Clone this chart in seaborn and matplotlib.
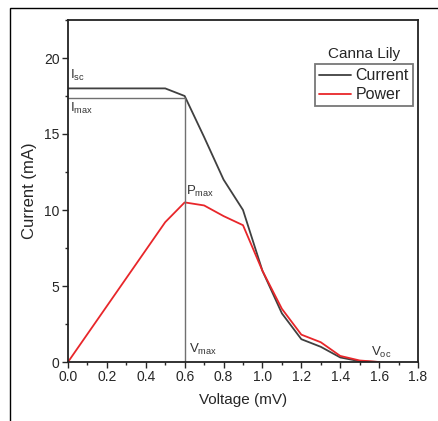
import numpy as np
import pandas as pd
import matplotlib
matplotlib.use("Agg")
import matplotlib.pyplot as plt
import seaborn as sns
from matplotlib.ticker import MultipleLocator, FormatStrFormatter
from matplotlib.lines import Line2D

voltage = [0.0, 0.5, 0.6, 0.7, 0.8, 0.9, 1.0, 1.1, 1.2, 1.3, 1.4, 1.5, 1.6]
current = [18.0, 18.0, 17.5, 14.8, 12.0, 10.0, 6.0, 3.2, 1.5, 1.0, 0.3, 0.05, 0.0]
power = [0.0, 9.2, 10.5, 10.3, 9.6, 9.0, 6.0, 3.5, 1.8, 1.3, 0.4, 0.1, 0.0]
series_names = ["Current", "Power"]
v_max = 0.6
i_max = 17.4

df = pd.DataFrame({
    "Voltage": voltage * 2,
    "Value": current + power,
    "Series": [series_names[0]] * len(voltage) + [series_names[1]] * len(voltage),
})

sns.set_style("white")
plt.rcParams['font.family'] = ['Liberation Sans', 'DejaVu Sans']
plt.rcParams['mathtext.fontset'] = 'custom'
plt.rcParams['mathtext.rm'] = 'Liberation Sans'

fig = plt.figure(figsize=(4.39, 4.21), dpi=100)
ax = fig.add_axes([68/439, 1-362/421, (418-68)/439, (362-20)/421])

# figure frame
fig.add_artist(plt.Rectangle((10/439, -0.01), 1.0, 1-8/421+0.01, transform=fig.transFigure,
                             fill=False, edgecolor='black', linewidth=1.0))

palette = {"Current": "#404040", "Power": "#e8262a"}
sns.lineplot(data=df, x="Voltage", y="Value", hue="Series", palette=palette,
             ax=ax, linewidth=1.3, legend=False, sort=False)

# Imax / Vmax guide lines
ax.plot([0, v_max], [i_max, i_max], color="#707070", linewidth=1.0)
ax.plot([v_max, v_max], [0, i_max], color="#707070", linewidth=1.0)

ax.set_xlim(0, 1.8)
ax.set_ylim(0, 22.5)
ax.xaxis.set_major_locator(MultipleLocator(0.2))
ax.xaxis.set_minor_locator(MultipleLocator(0.1))
ax.yaxis.set_major_locator(MultipleLocator(5))
ax.yaxis.set_minor_locator(MultipleLocator(2.5))
ax.xaxis.set_major_formatter(FormatStrFormatter('%.1f'))
ax.tick_params(axis='both', which='major', direction='out', length=4, width=1,
               labelsize=10, bottom=True, left=True, top=False, right=False, pad=2)
ax.tick_params(axis='both', which='minor', direction='out', length=2.5, width=1,
               bottom=True, left=True, top=False, right=False)
for s in ax.spines.values():
    s.set_linewidth(1.3)
    s.set_color('#222222')

ax.set_xlabel("Voltage (mV)", fontsize=11, labelpad=6)
ax.set_ylabel("Current (mA)", fontsize=12, labelpad=5)

tc = "#333333"
ax.text(0.01, 18.35, r"I$_{\mathregular{sc}}$", fontsize=9.5, color=tc, va='bottom')
ax.text(0.01, 17.15, r"I$_{\mathregular{max}}$", fontsize=9.5, color=tc, va='top')
ax.text(0.605, 10.7, r"P$_{\mathregular{max}}$", fontsize=9.5, color=tc, va='bottom')
ax.text(0.62, 0.3, r"V$_{\mathregular{max}}$", fontsize=9.5, color=tc, va='bottom')
ax.text(1.56, 0.15, r"V$_{\mathregular{oc}}$", fontsize=9.5, color=tc, va='bottom')

handles = [Line2D([], [], color=palette[n], linewidth=1.3) for n in series_names]
leg = ax.legend(handles, series_names, loc='upper right', bbox_to_anchor=(0.985, 0.87),
                fontsize=11.5, frameon=True, fancybox=False, edgecolor='#555555',
                handlelength=2.0, handletextpad=0.3, borderpad=0.25, labelspacing=0.25,
                borderaxespad=0)
leg.get_frame().set_linewidth(1.3)
ax.text(0.845, 0.88, "Canna Lily", transform=ax.transAxes, ha='center', va='bottom', fontsize=11)

fig.savefig("out.png", dpi=100)
